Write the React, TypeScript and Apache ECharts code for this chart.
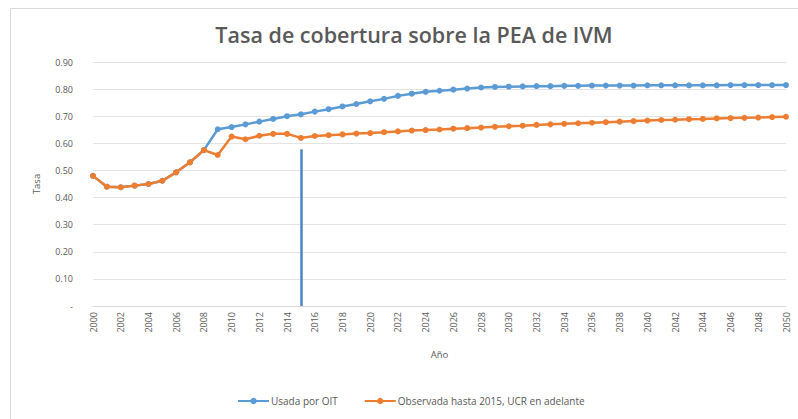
import React, { useEffect, useRef } from "react";
import * as echarts from "echarts";

const years: string[] = [];
for (let y = 2000; y <= 2050; y++) years.push(String(y));

const usadaOIT: number[] = [
  0.48, 0.44, 0.438, 0.444, 0.45, 0.462, 0.493, 0.53, 0.575, 0.652,
  0.66, 0.67, 0.68, 0.69, 0.70, 0.707, 0.717, 0.726, 0.736, 0.745,
  0.755, 0.764, 0.775, 0.783, 0.79, 0.794, 0.798, 0.802, 0.806, 0.808,
  0.809, 0.81, 0.811, 0.811, 0.812, 0.812, 0.813, 0.813, 0.813, 0.813,
  0.814, 0.814, 0.814, 0.814, 0.814, 0.814, 0.815, 0.815, 0.815, 0.815,
  0.815,
];

const observada: number[] = [
  0.48, 0.44, 0.438, 0.444, 0.45, 0.462, 0.493, 0.53, 0.575, 0.557,
  0.625, 0.615, 0.628, 0.635, 0.635, 0.62, 0.627, 0.63, 0.633, 0.636,
  0.638, 0.641, 0.644, 0.647, 0.649, 0.651, 0.654, 0.656, 0.658, 0.661,
  0.663, 0.665, 0.668, 0.67, 0.672, 0.674, 0.676, 0.678, 0.68, 0.682,
  0.684, 0.686, 0.687, 0.689, 0.69, 0.692, 0.693, 0.694, 0.695, 0.697,
  0.698,
];

const markerYear = "2015";
const markerTop = 0.578;

const seriesNames = ["Usada por OIT", "Observada hasta 2015, UCR en adelante"];
const title = "Tasa de cobertura sobre la PEA de IVM";

export default function App() {
  const ref = useRef<HTMLDivElement>(null);
  useEffect(() => {
    if (!ref.current) return;
    const chart = echarts.init(ref.current, undefined, { renderer: "svg" });
    const font = "'Open Sans', 'Liberation Sans', sans-serif";
    chart.setOption({
      animation: false,
      backgroundColor: "#ffffff",
      textStyle: { fontFamily: font },
      title: {
        text: title,
        left: 409,
        top: 18,
        textAlign: "center",
        textStyle: { fontSize: 21.5, fontWeight: 600, color: "#595959", fontFamily: font },
      },
      graphic: [
        {
          type: "polyline",
          shape: { points: [[10.5, 419], [10.5, 8.5], [798, 8.5]] },
          style: { stroke: "#D9D9D9", lineWidth: 1, fill: "none" },
          silent: true,
        },
      ],
      legend: {
        bottom: 8,
        left: 232,
        itemGap: 26,
        itemWidth: 31,
        itemHeight: 8,
        textStyle: { fontSize: 10, color: "#595959", fontFamily: font, padding: [0, 0, 0, -3] },
        data: seriesNames,
      },
      grid: { left: 93, right: 12, top: 62, bottom: 113 },
      xAxis: {
        type: "category",
        data: years,
        boundaryGap: false,
        name: "Año",
        nameLocation: "middle",
        nameGap: 43,
        nameTextStyle: { fontSize: 9.5, color: "#595959" },
        axisLine: { lineStyle: { color: "#D9D9D9" } },
        axisTick: { show: false },
        axisLabel: {
          interval: 1,
          rotate: 90,
          fontSize: 9,
          color: "#595959",
          margin: 6,
        },
      },
      yAxis: {
        type: "value",
        min: 0,
        max: 0.9,
        interval: 0.1,
        name: "Tasa",
        nameLocation: "middle",
        nameGap: 52,
        nameTextStyle: { fontSize: 9.5, color: "#595959" },
        axisLine: { show: false },
        axisTick: { show: false },
        splitLine: { lineStyle: { color: "#E3E3E3" } },
        axisLabel: {
          fontSize: 9,
          color: "#595959",
          margin: 20,
          formatter: (v: number) => (v === 0 ? "-" : v.toFixed(2)),
        },
      },
      series: [
        {
          name: seriesNames[0],
          type: "line",
          data: usadaOIT,
          symbol: "circle",
          symbolSize: 6,
          lineStyle: { width: 2.5, color: "#5B9BD5" },
          itemStyle: { color: "#5B9BD5" },
          z: 2,
          markLine: {
            silent: true,
            symbol: ["none", "none"],
            label: { show: false },
            lineStyle: { color: "#4A86C5", width: 2.5, type: "solid" },
            data: [[{ coord: [markerYear, 0] }, { coord: [markerYear, markerTop] }]],
          },
        },
        {
          name: seriesNames[1],
          type: "line",
          data: observada,
          symbol: "circle",
          symbolSize: 6,
          lineStyle: { width: 2.5, color: "#ED7D31" },
          itemStyle: { color: "#ED7D31" },
          z: 3,
        },
      ],
    });
    return () => chart.dispose();
  }, []);
  return (
    <div
      ref={ref}
      style={{ position: "fixed", left: 0, top: 0, width: 798, height: 419 }}
    />
  );
}
